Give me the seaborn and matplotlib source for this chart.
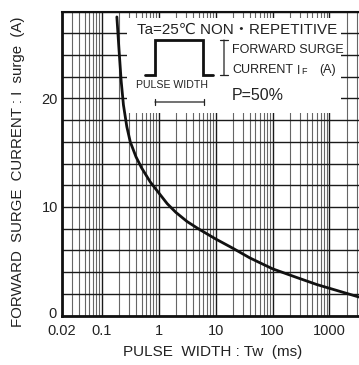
import numpy as np
import pandas as pd
import matplotlib
matplotlib.use("Agg")
import matplotlib.pyplot as plt
import matplotlib.ticker as mticker
import matplotlib.transforms as mtransforms
from matplotlib.patches import Rectangle
import seaborn as sns

# curve
pulse_width_ms = [0.184, 0.2, 0.219, 0.24, 0.275, 0.316, 0.4, 0.5, 0.71, 1.0,
                  1.41, 2.0, 3.16, 5.0, 10, 20, 40, 100, 250, 600, 1260, 3300]
surge_current_a = [27.5, 24.6, 21.6, 19.4, 17.4, 16.0, 14.6, 13.6, 12.3, 11.3,
                   10.3, 9.5, 8.65, 7.98, 7.05, 6.2, 5.3, 4.3, 3.55, 2.85, 2.35, 1.7]
x_tick_values = [0.02, 0.1, 1, 10, 100, 1000]
x_tick_labels = ["0.02", "0.1", "1", "10", "100", "1000"]
y_tick_values = [0, 10, 20]

df = pd.DataFrame({"tw": pulse_width_ms, "isurge": surge_current_a})

sns.set_style("white")
plt.rcParams['font.family'] = ['Liberation Sans', 'DejaVu Sans', 'Noto Sans CJK JP']
plt.rcParams['text.color'] = '#222222'

fig = plt.figure(figsize=(3.59, 3.65), dpi=100)
ax = fig.add_axes([62/359, 49.5/365, 297/359, 304/365])

sns.lineplot(data=df, x="tw", y="isurge", color="#111111", linewidth=2, ax=ax, zorder=3)

ax.set_xscale("log")
ax.set_xlim(0.02, 3300)
ax.set_ylim(0, 28)

ax.xaxis.set_major_locator(mticker.FixedLocator(x_tick_values))
ax.xaxis.set_major_formatter(mticker.FixedFormatter(x_tick_labels))
ax.xaxis.set_minor_locator(mticker.LogLocator(base=10, subs=np.arange(2, 10), numticks=20))
ax.xaxis.set_minor_formatter(mticker.NullFormatter())
ax.yaxis.set_major_locator(mticker.FixedLocator(y_tick_values))
ax.yaxis.set_minor_locator(mticker.MultipleLocator(2))

ax.set_axisbelow(True)
ax.grid(which="major", axis="x", color="#1a1a1a", linewidth=1.0)
ax.grid(which="minor", axis="x", color="#666666", linewidth=0.8)
ax.grid(which="both", axis="y", color="#1a1a1a", linewidth=1.0)
ax.tick_params(which="both", length=0, labelsize=10.5, colors="#222222")
ax.tick_params(axis="x", pad=6)
ax.tick_params(axis="y", pad=3)

# the "0" sits a little above the bottom line in the original
fig.canvas.draw()
lbl0 = ax.get_yticklabels()[0]
lbl0.set_transform(lbl0.get_transform() + mtransforms.ScaledTranslation(-1/100, 3/100, fig.dpi_scale_trans))

for side in ["left", "bottom"]:
    ax.spines[side].set_linewidth(2)
    ax.spines[side].set_color("#111111")
ax.spines["top"].set_linewidth(1.5)
ax.spines["top"].set_color("#111111")
ax.spines["right"].set_visible(False)

ax.set_xlabel("")
ax.set_ylabel("")

# white legend panel, hides the grid behind it
def px(x, y):
    return ((x - 62) / 297, (315.5 - y) / 304)

x0, y0 = px(127, 113)
x1, y1 = px(341, 18)
ax.add_patch(Rectangle((x0, y0), x1 - x0, y1 - y0, transform=ax.transAxes,
                       facecolor="white", edgecolor="none", zorder=1))

ax.text(*px(137, 30), "Ta=25℃ NON・REPETITIVE", transform=ax.transAxes,
        fontsize=10.9, ha="left", va="center", zorder=4)

# pulse glyph
gx = [145, 155, 155, 203, 203, 213]
gy = [75, 75, 40, 40, 75, 75]
pts = [px(a, b) for a, b in zip(gx, gy)]
ax.plot([p[0] for p in pts], [p[1] for p in pts], color="#111111", linewidth=2,
        transform=ax.transAxes, zorder=4, solid_joinstyle="miter")
ax.text(*px(172, 85), "PULSE WIDTH", transform=ax.transAxes, fontsize=7.6,
        ha="center", va="center", zorder=4)
ax.annotate("", xy=px(204, 102), xytext=px(155, 102), xycoords="axes fraction",
            arrowprops=dict(arrowstyle="|-|, widthA=0.25, widthB=0.25", color="#222222",
                            lw=0.9, shrinkA=0, shrinkB=0), zorder=4)
ax.annotate("", xy=px(224, 75), xytext=px(224, 40), xycoords="axes fraction",
            arrowprops=dict(arrowstyle="|-|, widthA=0.3, widthB=0.3", color="#222222",
                            lw=0.9, shrinkA=0, shrinkB=0), zorder=4)

ax.text(*px(232, 50), "FORWARD SURGE", transform=ax.transAxes, fontsize=9,
        ha="left", va="center", zorder=4)
ax.text(*px(232, 70), "CURRENT", transform=ax.transAxes, fontsize=9,
        ha="left", va="center", zorder=4)
ax.text(*px(297, 71), "I", transform=ax.transAxes, fontsize=8.5,
        ha="left", va="center", zorder=4)
ax.text(*px(301, 72), "F", transform=ax.transAxes, fontsize=6.5,
        ha="left", va="center", zorder=4)
ax.text(*px(319, 70), "(A)", transform=ax.transAxes, fontsize=9,
        ha="left", va="center", zorder=4)
ax.text(*px(232, 95), "P=50%", transform=ax.transAxes, fontsize=11.5,
        ha="left", va="center", zorder=4)

fig.text(213/359, 1 - 352/365, "PULSE  WIDTH : Tw  (ms)", fontsize=11,
         ha="center", va="center")
fig.text(18/359, 1 - 172/365, "FORWARD  SURGE  CURRENT : I  surge  (A)", fontsize=10.8,
         ha="center", va="center", rotation=90)

fig.savefig("out.png", dpi=100)
